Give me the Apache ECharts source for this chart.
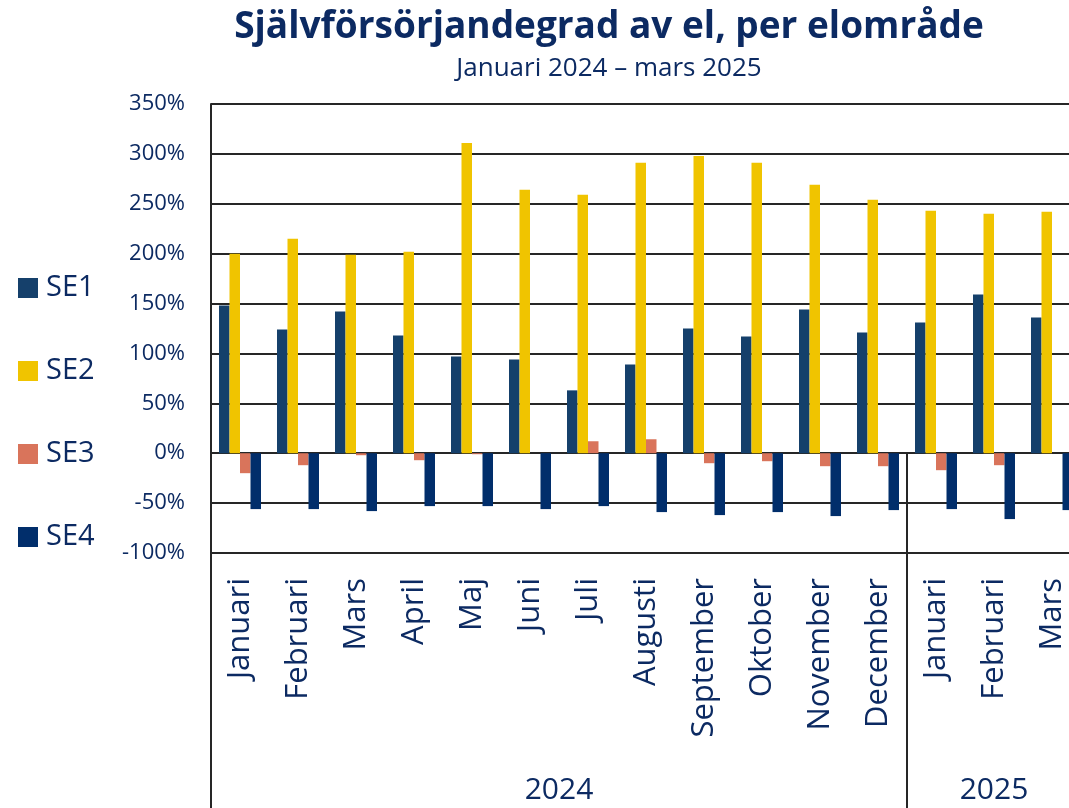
<!DOCTYPE html>
<html>
<head>
<meta charset="utf-8">
<script src="https://cdn.jsdelivr.net/npm/echarts@6/dist/echarts.min.js"></script>
<style>
  html, body { margin: 0; padding: 0; background: #fff; }
  #chart { width: 1069px; height: 808px; }
</style>
</head>
<body>
<div id="chart"></div>
<script>
// months on the axis, Jan 2024 - Mar 2025
const months = ['Januari', 'Februari', 'Mars', 'April', 'Maj', 'Juni', 'Juli', 'Augusti',
  'September', 'Oktober', 'November', 'December', 'Januari', 'Februari', 'Mars'];
const years = ['2024', '2025'];
const yearSpans = [12, 3];
const yTicks = [-100, 350, 50]; // min, max, step

// self-sufficiency in %, per price area
const se1 = [148, 124, 142, 118, 97, 94, 63, 89, 125, 117, 144, 121, 131, 159, 136];
const se2 = [200, 215, 199, 202, 311, 264, 259, 291, 298, 291, 269, 254, 243, 240, 242];
const se3 = [-20, -12, -2, -7, -1, 0, 12, 14, -10, -8, -13, -13, -17, -12, 0];
const se4 = [-56, -56, -58, -53, -53, -56, -53, -59, -62, -59, -63, -57, -56, -66, -57];

const navy = '#0c2a62';
const lineCol = '#262626';
const font = '"Open Sans", "Noto Sans", sans-serif';

// year label positions (middle of each span) and separators (start of each span)
const yearMid = [];
const yearStart = [];
let acc = 0;
yearSpans.forEach(function (n) {
  yearStart.push(acc);
  yearMid.push(acc + n / 2);
  acc += n;
});

const chart = echarts.init(document.getElementById('chart'));

function bar(name, data, color) {
  return {
    name: name,
    type: 'bar',
    data: data,
    barWidth: 10.5,
    barGap: '0%',
    itemStyle: { color: color },
    xAxisIndex: 0
  };
}

const option = {
  animation: false,
  textStyle: { fontFamily: font },
  title: {
    text: 'Självförsörjandegrad av el, per elområde',
    subtext: 'Januari 2024 – mars 2025',
    left: 604,
    textAlign: 'center',
    top: 4,
    itemGap: 10,
    textStyle: { fontFamily: font, fontSize: 37, fontWeight: 'bold', color: navy },
    subtextStyle: { fontFamily: font, fontSize: 26, color: navy }
  },
  legend: {
    orient: 'vertical',
    left: 18,
    top: 273,
    padding: 0,
    itemWidth: 20,
    itemHeight: 20,
    itemGap: 53,
    icon: 'rect',
    textStyle: { fontFamily: font, fontSize: 29, lineHeight: 30, color: navy, padding: [0, 0, 0, 3] }
  },
  grid: {
    left: 211,
    top: 104,
    right: -12,
    bottom: 255,
    containLabel: false,
    outerBoundsMode: 'none'
  },
  xAxis: [
    {
      type: 'category',
      data: months,
      position: 'bottom',
      axisLine: { show: true, onZero: false, lineStyle: { color: lineCol, width: 2 } },
      axisTick: { show: false },
      axisLabel: {
        interval: 0,
        rotate: 90,
        margin: 25,
        fontFamily: font,
        fontSize: 31,
        color: navy
      }
    },
    {
      type: 'value',
      min: 0,
      max: months.length,
      position: 'bottom',
      offset: 0,
      axisLine: { show: false },
      splitLine: { show: false },
      axisTick: {
        show: true,
        length: 355,
        customValues: yearStart,
        lineStyle: { color: lineCol, width: 2 }
      },
      axisLabel: {
        customValues: yearMid,
        margin: 222,
        fontFamily: font,
        fontSize: 30,
        color: navy,
        formatter: function (v) {
          return years[yearMid.indexOf(v)];
        }
      }
    }
  ],
  yAxis: {
    type: 'value',
    min: yTicks[0],
    max: yTicks[1],
    interval: yTicks[2],
    axisLine: { show: true, lineStyle: { color: lineCol, width: 2 } },
    axisTick: { show: false },
    splitLine: { lineStyle: { color: lineCol, width: 2 } },
    axisLabel: {
      formatter: '{value}%',
      margin: 26,
      fontFamily: font,
      fontSize: 22,
      color: navy
    }
  },
  series: [
    bar('SE1', se1, '#15406b'),
    bar('SE2', se2, '#f0c400'),
    bar('SE3', se3, '#d9745b'),
    bar('SE4', se4, '#012e6b')
  ]
};

chart.setOption(option);
</script>
</body>
</html>
